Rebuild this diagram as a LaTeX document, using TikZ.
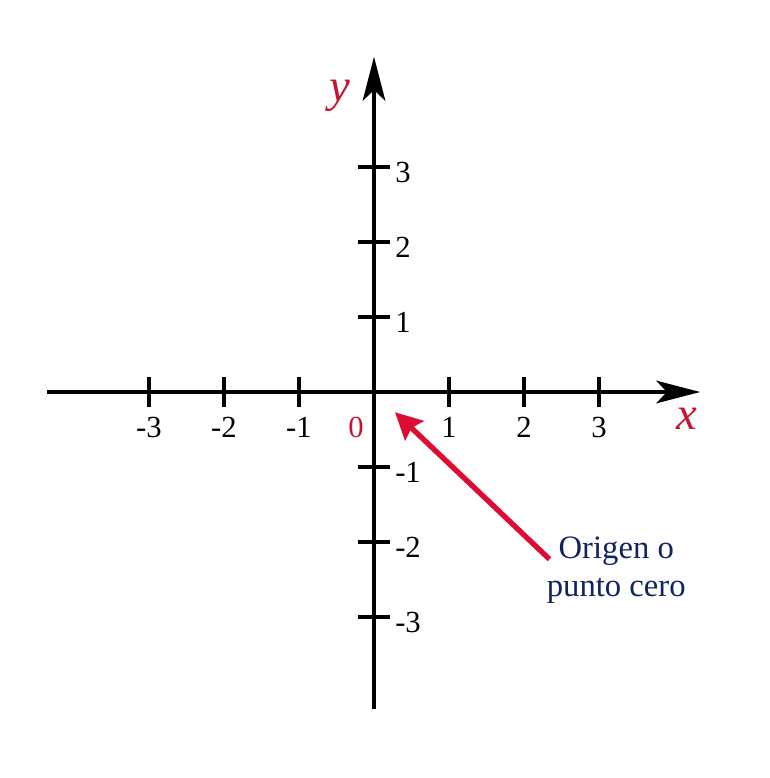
\documentclass[tikz,border=0pt]{standalone}
\usepackage{fontspec}
\setmainfont{Liberation Serif}
\usetikzlibrary{arrows.meta}
\definecolor{axisred}{RGB}{200,20,50}
\definecolor{arrowred}{RGB}{222,12,50}
\definecolor{labelnavy}{RGB}{18,36,96}

\begin{document}
\begin{tikzpicture}[x=56.25pt, y=56.25pt,
    axis/.style={line width=2.6pt, -{Stealth[length=33pt, width=17pt, inset=8pt]}},
    tick/.style={line width=2.6pt},
    ticklabel/.style={font=\fontsize{23}{26}\selectfont, inner sep=0pt},
    axislabel/.style={font=\fontsize{35}{40}\selectfont\itshape, text=axisred, inner sep=0pt, anchor=base},
    pointer/.style={line width=4pt, arrowred, -{Stealth[length=20pt, width=20pt, inset=3pt]}},
    note/.style={font=\fontsize{24.5}{28.5}\selectfont, text=labelnavy, align=center, inner sep=0pt}
]
\useasboundingbox (-4.987,-5.147) rectangle (5.28,5.227);

% axes
\coordinate (xmin) at (-4.36,0);
\coordinate (xmax) at (4.35,0);
\coordinate (ymin) at (0,-4.23);
\coordinate (ymax) at (0,4.47);
\draw[axis] (xmin) -- (xmax);
\draw[axis] (ymin) -- (ymax);

% ticks
\foreach \i in {-3,-2,-1,1,2,3} {
    \draw[tick] (\i,-0.2) -- (\i,0.2);
    \node[ticklabel, anchor=base] (xl\i) at (\i,-0.6) {\i};
    \draw[tick] (-0.21,\i) -- (0.21,\i);
    \node[ticklabel, anchor=base west] (yl\i) at (0.28,\i-0.21) {\i};
}
\node[ticklabel, anchor=base, text=axisred] (zero) at (-0.24,-0.6) {0};

\node[axislabel] (xlab) at (4.17,-0.5) {x};
\node[axislabel] (ylab) at (-0.45,3.88) {y};

% pointer to origin
\node[note] (origen) at (3.23,-2.37) {Origen o\\punto cero};
\coordinate (ptrstart) at (2.34,-2.23);
\coordinate (tip) at (0.28,-0.27);
\draw[pointer] (ptrstart) -- (tip);
\end{tikzpicture}
\end{document}
